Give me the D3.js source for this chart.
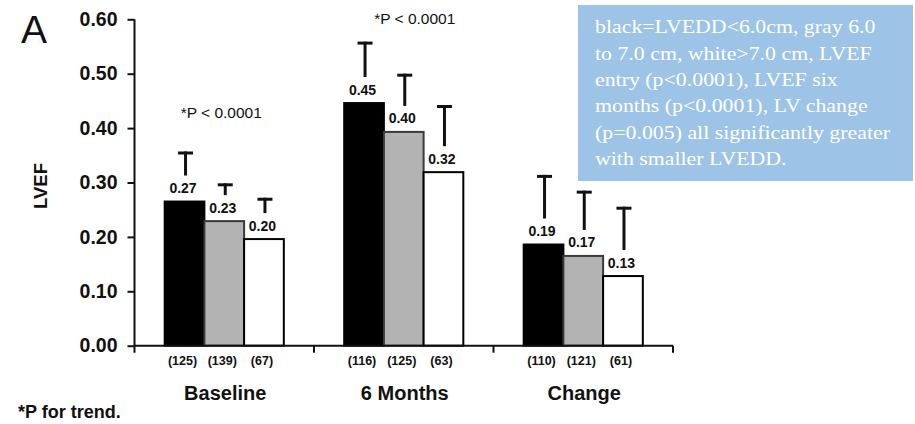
<!DOCTYPE html>
<html>
<head>
<meta charset="utf-8">
<script src="https://cdn.jsdelivr.net/npm/d3@7"></script>
<style>
  html, body { margin: 0; padding: 0; background: #fff; }
  svg { display: block; }
</style>
</head>
<body>
<svg id="chart" width="915" height="424"></svg>
<script>
// ---- data ----
const groups = ["Baseline", "6 Months", "Change"];
const series = ["LVEDD<6.0", "6.0-7.0", "LVEDD>7.0"];
const baselineValues = [0.265, 0.229, 0.196];
const sixMonthValues = [0.446, 0.393, 0.319];
const changeValues   = [0.186, 0.165, 0.128];
const baselineLabels = ["0.27", "0.23", "0.20"];
const sixMonthLabels = ["0.45", "0.40", "0.32"];
const changeLabels   = ["0.19", "0.17", "0.13"];
const baselineErrTop = [0.357, 0.2985, 0.272];
const sixMonthErrTop = [0.559, 0.500, 0.4425];
const changeErrTop   = [0.314, 0.285, 0.2555];
const baselineN = ["(125)", "(139)", "(67)"];
const sixMonthN = ["(116)", "(125)", "(63)"];
const changeN   = ["(110)", "(121)", "(61)"];
const yTicks = [0.00, 0.10, 0.20, 0.30, 0.40, 0.50, 0.60];
const pAnnotations = ["*P < 0.0001", "*P < 0.0001"];
const noteLines = [
  "black=LVEDD<6.0cm, gray 6.0",
  "to 7.0 cm, white>7.0 cm, LVEF",
  "entry (p<0.0001), LVEF six",
  "months (p<0.0001), LV change",
  "(p=0.005) all significantly greater",
  "with smaller LVEDD."
];

const valuesByGroup = [baselineValues, sixMonthValues, changeValues];
const labelsByGroup = [baselineLabels, sixMonthLabels, changeLabels];
const errByGroup = [baselineErrTop, sixMonthErrTop, changeErrTop];
const nByGroup = [baselineN, sixMonthN, changeN];

const rows = [];
groups.forEach((g, gi) => series.forEach((s, si) => rows.push({
  group: g, series: s, si,
  value: valuesByGroup[gi][si],
  label: labelsByGroup[gi][si],
  err: errByGroup[gi][si],
  n: nByGroup[gi][si]
})));

// ---- drawing ----
const SANS = "'Liberation Sans', Arial, Helvetica, sans-serif";
const SERIF = "'Liberation Serif', 'Times New Roman', serif";
const svg = d3.select("#chart");

const y = d3.scaleLinear().domain([0, 0.6]).range([345.7, 19.3]);
const x0 = d3.scaleBand().domain(groups).range([134.5, 673]).paddingInner(0).paddingOuter(0);
const x1 = d3.scaleBand().domain(series).range([0, x0.bandwidth()]).paddingInner(0).paddingOuter(0.76);
const fills = d3.scaleOrdinal().domain(series).range(["#000000", "#b3b3b3", "#ffffff"]);
const strokes = d3.scaleOrdinal().domain(series).range(["#000000", "#3a3a3a", "#000000"]);

// y axis
const yAxis = svg.append("g")
  .attr("transform", `translate(${x0.range()[0]},0)`)
  .call(d3.axisLeft(y).tickValues(yTicks).tickFormat(d3.format(".2f")).tickSize(7).tickPadding(10).tickSizeOuter(0));
yAxis.select(".domain").attr("stroke", "#111").attr("stroke-width", 2)
  .attr("d", `M0,${y(0.6)}V${y(0) + 7}`);
yAxis.selectAll(".tick line").attr("stroke", "#111").attr("stroke-width", 2);
yAxis.selectAll(".tick text").attr("font-family", SANS).attr("font-weight", "bold")
  .attr("font-size", 19.5).attr("fill", "#111");

// bars
const barG = svg.append("g");
const bars = barG.selectAll("g.bar").data(rows).join("g").attr("class", "bar");
const cx = d => x0(d.group) + x1(d.series) + x1.bandwidth() / 2;

bars.append("rect")
  .attr("x", d => x0(d.group) + x1(d.series))
  .attr("y", d => y(d.value))
  .attr("width", x1.bandwidth())
  .attr("height", d => y(0) - y(d.value))
  .attr("fill", d => fills(d.series))
  .attr("stroke", d => strokes(d.series))
  .attr("stroke-width", 2);

// error "T"s
bars.append("line")
  .attr("x1", d => cx(d) + 1).attr("x2", d => cx(d) + 1)
  .attr("y1", d => y(d.value) - 26).attr("y2", d => y(d.err))
  .attr("stroke", "#111").attr("stroke-width", 3);
bars.append("line")
  .attr("x1", d => cx(d) + 1 - 7.5).attr("x2", d => cx(d) + 1 + 7.5)
  .attr("y1", d => y(d.err) + 1.5).attr("y2", d => y(d.err) + 1.5)
  .attr("stroke", "#111").attr("stroke-width", 3);

// value labels
bars.append("text")
  .attr("x", d => cx(d) - 1.5)
  .attr("y", d => y(d.value) - 8.5)
  .attr("text-anchor", "middle")
  .attr("font-family", SANS).attr("font-weight", "bold").attr("font-size", 14)
  .attr("fill", "#111")
  .text(d => d.label);

// n labels
bars.append("text")
  .attr("x", d => cx(d) - 2)
  .attr("y", 365)
  .attr("text-anchor", "middle")
  .attr("font-family", SANS).attr("font-weight", "bold").attr("font-size", 12.5)
  .attr("fill", "#111")
  .text(d => d.n);

// x axis line with boundary ticks
const xAxis = svg.append("g");
xAxis.append("line")
  .attr("x1", x0.range()[0]).attr("x2", x0.range()[1])
  .attr("y1", y(0)).attr("y2", y(0))
  .attr("stroke", "#111").attr("stroke-width", 2);
const bounds = groups.map(g => x0(g)).concat([x0.range()[1]]);
xAxis.selectAll("line.bt").data(bounds.slice(1)).join("line").attr("class", "bt")
  .attr("x1", d => d).attr("x2", d => d)
  .attr("y1", y(0)).attr("y2", y(0) + 7)
  .attr("stroke", "#111").attr("stroke-width", 2);

// group labels
svg.append("g").selectAll("text").data(groups).join("text")
  .attr("x", d => x0(d) + x0.bandwidth() / 2 + 1)
  .attr("y", 400)
  .attr("text-anchor", "middle")
  .attr("font-family", SANS).attr("font-weight", "bold").attr("font-size", 20)
  .attr("fill", "#111")
  .text(d => d);

// p annotations
const annX = [x0(groups[0]) + x0.bandwidth() / 2 - 3, x0(groups[1]) + x0.bandwidth() / 2 + 11];
const annY = [118, 23.5];
svg.append("g").selectAll("text").data(pAnnotations).join("text")
  .attr("x", (d, i) => annX[i]).attr("y", (d, i) => annY[i])
  .attr("text-anchor", "middle")
  .attr("font-family", SANS).attr("font-size", 15.5).attr("fill", "#111")
  .text(d => d);

// y title
svg.append("text")
  .attr("transform", "translate(47,186) rotate(-90)")
  .attr("text-anchor", "middle")
  .attr("font-family", SANS).attr("font-weight", "bold").attr("font-size", 18.5)
  .attr("fill", "#111")
  .text("LVEF");

// panel letter
svg.append("text")
  .attr("x", 21).attr("y", 42.5)
  .attr("font-family", SANS).attr("font-size", 39).attr("fill", "#111")
  .text("A");

// footnote
svg.append("text")
  .attr("x", 18).attr("y", 418)
  .attr("font-family", SANS).attr("font-weight", "bold").attr("font-size", 18)
  .attr("fill", "#111")
  .text("*P for trend.");

// note box
const note = svg.append("g");
note.append("rect")
  .attr("x", 578).attr("y", 5).attr("width", 335).attr("height", 176)
  .attr("fill", "#9dc3e6");
note.selectAll("text").data(noteLines).join("text")
  .attr("transform", (d, i) => `translate(595,${33.3 + i * 26.3}) scale(1.15,1)`)
  .attr("font-family", SERIF).attr("font-size", 19).attr("fill", "#ffffff")
  .text(d => d);
</script>
</body>
</html>
